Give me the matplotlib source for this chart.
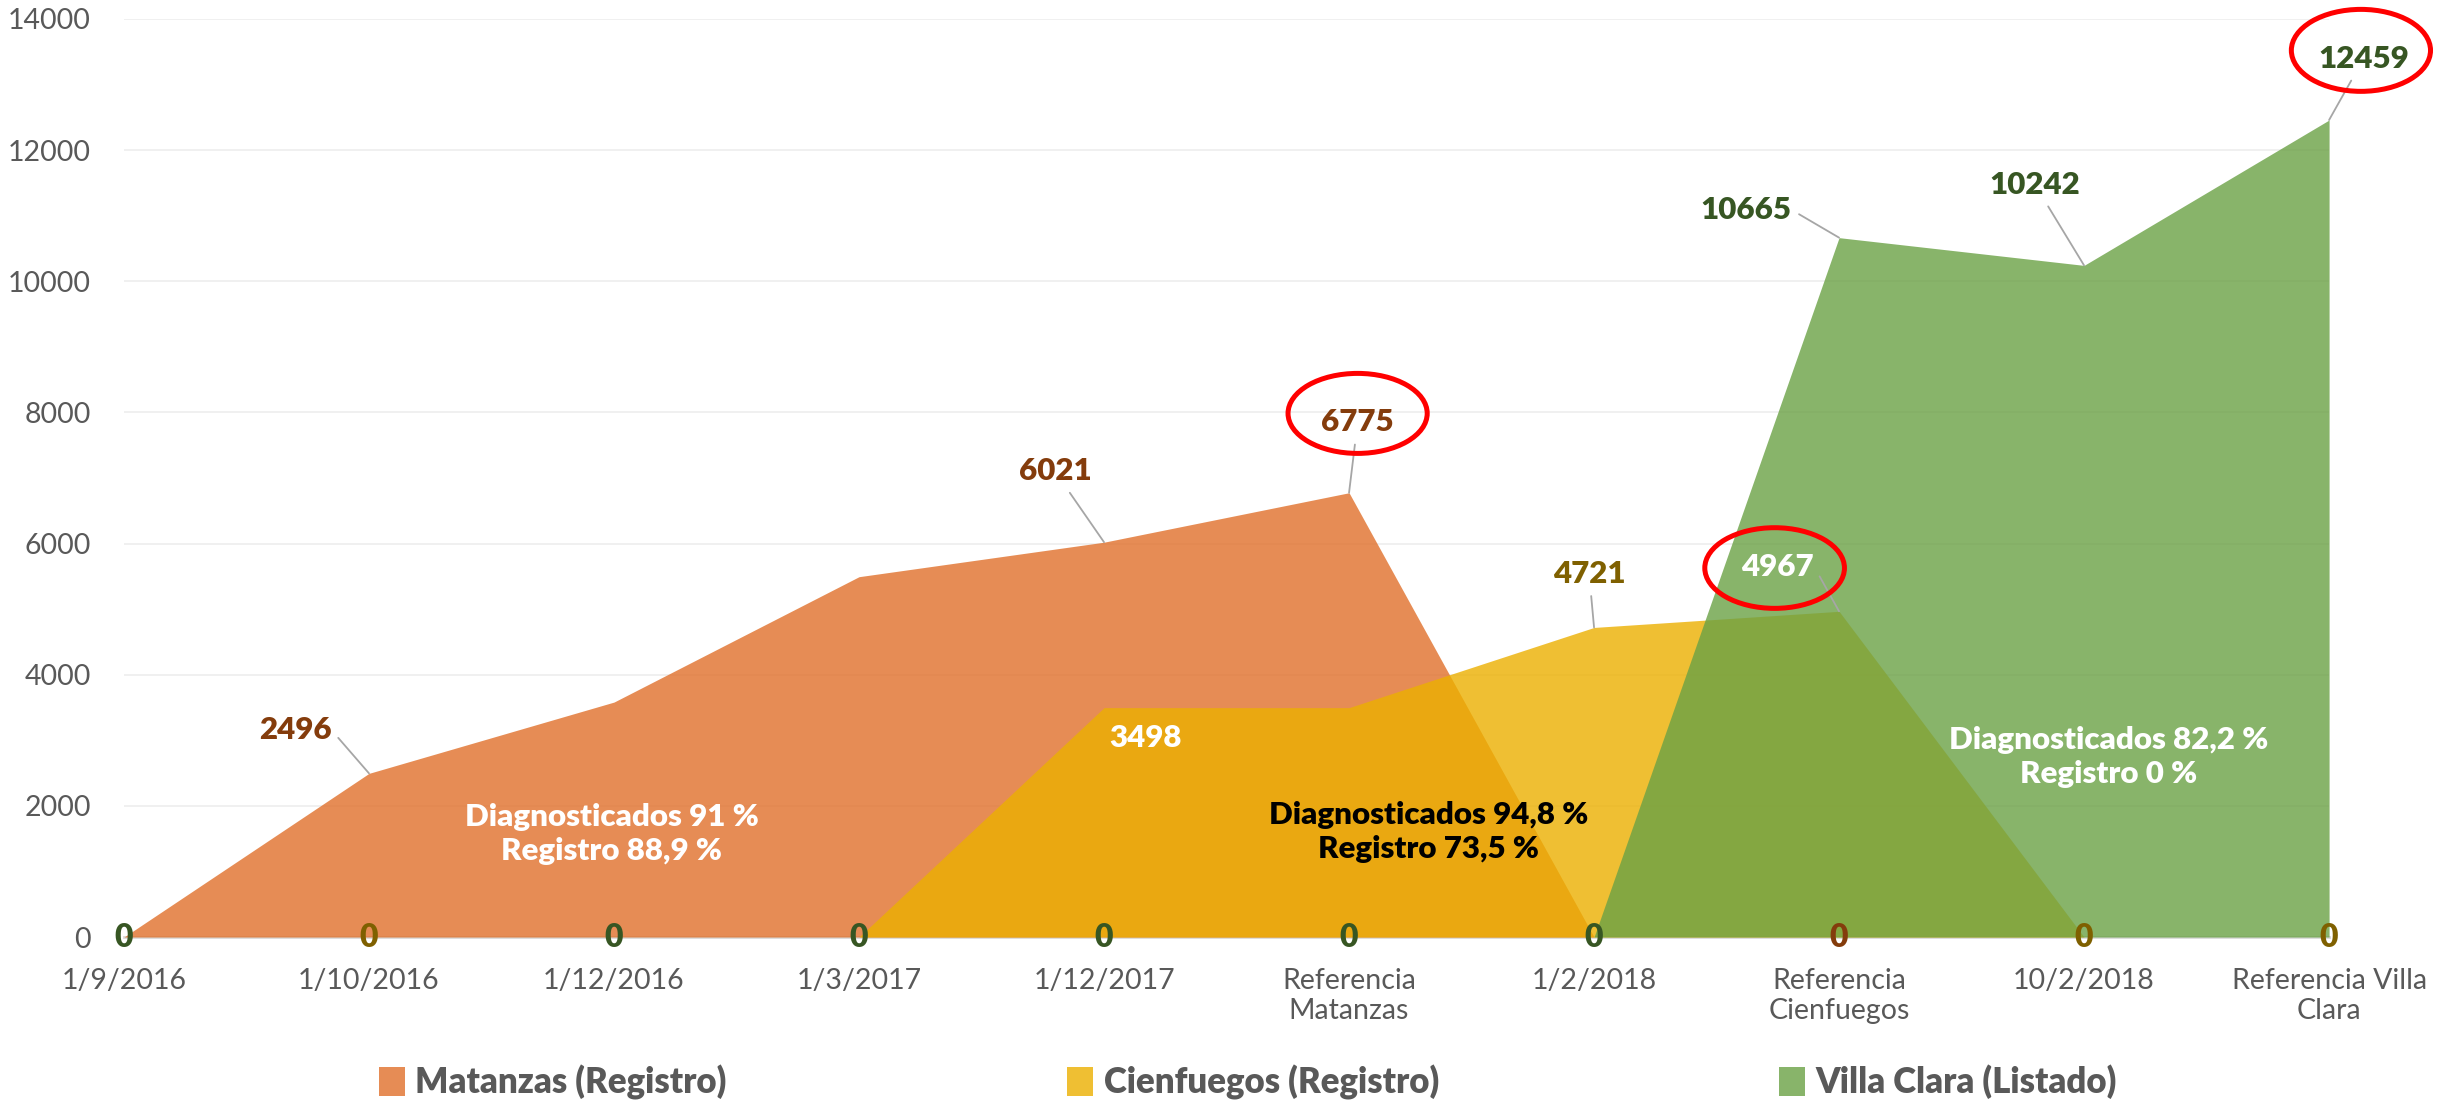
"""
Área apilada (superpuesta): Matanzas, Cienfuegos y Villa Clara
"""
import matplotlib
matplotlib.use("Agg")
import matplotlib.pyplot as plt
from matplotlib.patches import Ellipse, Patch

plt.rcParams['font.family'] = ['Lato', 'DejaVu Sans']

# datos
categorias = ['1/9/2016', '1/10/2016', '1/12/2016', '1/3/2017', '1/12/2017',
              'Referencia\nMatanzas', '1/2/2018', 'Referencia\nCienfuegos',
              '10/2/2018', 'Referencia Villa\nClara']
matanzas = [0, 2496, 3583, 5495, 6021, 6775, 0, 0, 0, 0]
cienfuegos = [0, 0, 0, 0, 3498, 3498, 4721, 4967, 0, 0]
villa_clara = [0, 0, 0, 0, 0, 0, 0, 10665, 10242, 12459]
nombres = ['Matanzas (Registro)', 'Cienfuegos (Registro)', 'Villa Clara (Listado)']

# qué serie muestra su "0" encima en cada categoría
cero_visible = ['vc', 'cf', 'vc', 'vc', 'vc', 'vc', 'vc', 'mt', 'cf', 'cf']

# etiquetas de valor: (serie, índice, posición del texto x, y)
etiquetas = [
    ('mt', 1, 0.70, 3150),
    ('mt', 4, 3.80, 7100),
    ('mt', 5, 5.035, 7850),
    ('cf', 4, 4.17, 3030),
    ('cf', 6, 5.98, 5540),
    ('cf', 7, 6.75, 5650),
    ('vc', 7, 6.62, 11090),
    ('vc', 8, 7.80, 11470),
    ('vc', 9, 9.14, 13390),
]
con_guia = {('mt', 1), ('mt', 4), ('mt', 5), ('cf', 6), ('cf', 7),
            ('vc', 7), ('vc', 8), ('vc', 9)}
blancas = {('cf', 4), ('cf', 7)}
# guías que salen del lado derecho del texto
guia_lateral = {('mt', 1), ('vc', 7), ('cf', 7)}

# elipses rojas: (x, y, ancho, alto)
elipses = [(5.035, 7985, 0.568, 1220), (6.737, 5627, 0.57, 1230), (9.13, 13521, 0.568, 1250)]

# textos de porcentaje
textos = [
    ('Diagnosticados 91 %\nRegistro 88,9 %', 1.99, 1570, 'white'),
    ('Diagnosticados 94,8 %\nRegistro 73,5 %', 5.325, 1600, 'black'),
    ('Diagnosticados 82,2 %\nRegistro 0 %', 8.10, 2750, 'white'),
]

series = {'mt': matanzas, 'cf': cienfuegos, 'vc': villa_clara}
relleno = {'mt': '#E0702A', 'cf': '#ECB000', 'vc': '#6AA145'}
oscuro = {'mt': '#843C0C', 'cf': '#7F6000', 'vc': '#375623'}
gris = '#595959'

fig = plt.figure(figsize=(24.58, 11.02), dpi=100)
ax = fig.add_axes([0.05045, 0.1497, 0.8971, 0.8331])

x = list(range(len(categorias)))
handles = []
for i, clave in enumerate(['mt', 'cf', 'vc']):
    ax.fill_between(x, 0, series[clave], color=relleno[clave], alpha=0.8,
                    linewidth=0, zorder=2 + i)
    handles.append(Patch(facecolor=relleno[clave], alpha=0.8, edgecolor='none',
                         label=nombres[i]))

# ejes
ax.set_xlim(0, 9)
ax.set_ylim(0, 14000)
ax.set_yticks(range(0, 14001, 2000))
ax.set_xticks(x)
ax.set_xticklabels(categorias, linespacing=1.2)
ax.tick_params(axis='both', length=0, colors=gris, labelsize=20.5)
ax.tick_params(axis='x', pad=22)
ax.tick_params(axis='y', pad=24)
ax.grid(axis='y', color='#EDEDED', linewidth=1.2, zorder=0)
ax.set_axisbelow(True)
for lado in ['top', 'right', 'left']:
    ax.spines[lado].set_visible(False)
ax.spines['bottom'].set_color('#D9D9D9')
ax.spines['bottom'].set_linewidth(2)
ax.spines['bottom'].set_zorder(1)

# ceros sobre el eje
for i, clave in enumerate(cero_visible):
    ax.text(i, 0, '0', ha='center', va='center', fontsize=23, fontweight='heavy',
            color=oscuro[clave], zorder=10, clip_on=False)

# etiquetas de valor con guías
for clave, i, tx, ty in etiquetas:
    valor = series[clave][i]
    color = 'white' if (clave, i) in blancas else oscuro[clave]
    if (clave, i) in con_guia:
        props = dict(arrowstyle='-', color='#A6A6A6', lw=1.3, shrinkA=4, shrinkB=0)
        if (clave, i) in guia_lateral:
            props['relpos'] = (1, 0.5)
        ax.annotate(str(valor), xy=(i, valor), xytext=(tx, ty), ha='center', va='center',
                    fontsize=22.5, fontweight='heavy', color=color, zorder=10,
                    arrowprops=props)
    else:
        ax.text(tx, ty, str(valor), ha='center', va='center', fontsize=22.5,
                fontweight='heavy', color=color, zorder=10)

for ex, ey, ew, eh in elipses:
    ax.add_patch(Ellipse((ex, ey), ew, eh, fill=False, edgecolor='#FF0000',
                         linewidth=3.6, zorder=11, clip_on=False))

for texto, tx, ty, color in textos:
    ax.text(tx, ty, texto, ha='center', va='center', fontsize=22.5, fontweight='heavy',
            color=color, linespacing=1.25, zorder=10)

fig.legend(handles=handles, loc='center', bbox_to_anchor=(0.5077, 0.018), ncol=3,
           frameon=False, handlelength=0.75, handleheight=0.9, handletextpad=0.3,
           columnspacing=9.8, prop={'size': 25, 'weight': 'heavy'}, labelcolor=gris)

fig.savefig('out.png', dpi=100)
